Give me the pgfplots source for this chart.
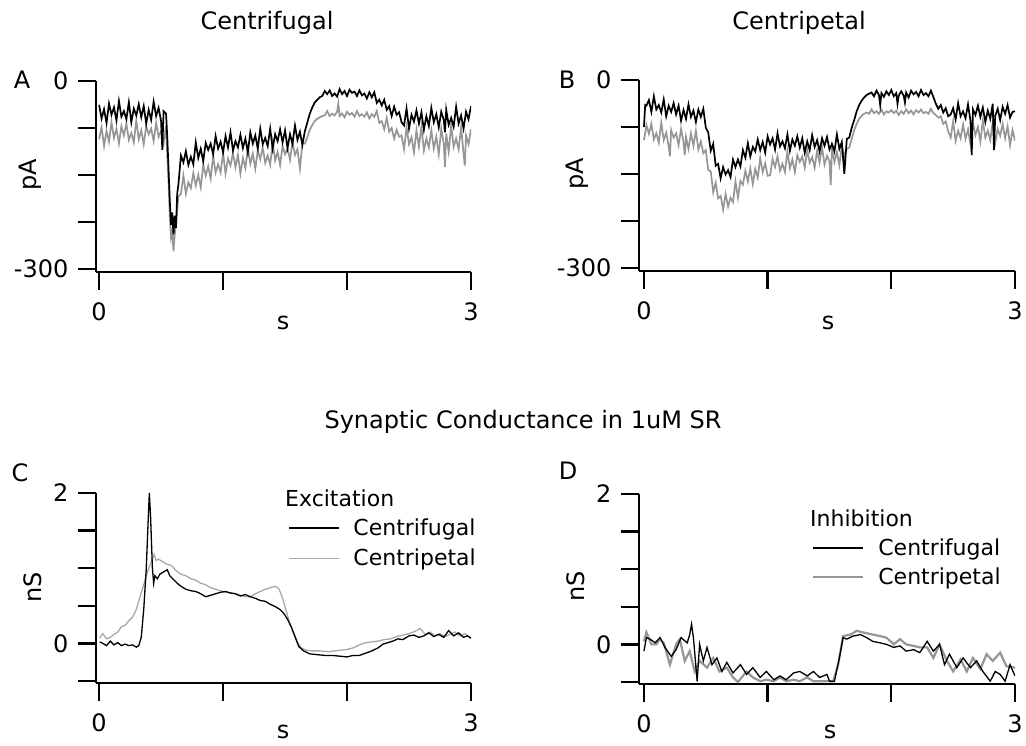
\documentclass[border=0pt]{standalone}
\usepackage{fontspec}
\setmainfont{DejaVu Sans}
\usepackage{pgfplots}
\pgfplotsset{compat=1.18}
\definecolor{tgray}{RGB}{150,150,150}
\definecolor{lgray}{RGB}{168,168,168}
\newcommand{\bigf}{\fontsize{24}{24}\selectfont}
\newcommand{\legf}{\fontsize{22}{22}\selectfont}
\pgfplotsset{
  igor/.style={
    scale only axis,
    axis x line=bottom, axis y line=left,
    axis line style={-, line width=2.3pt, black},
    tick align=outside, major tick length=18pt,
    every tick/.style={black, line width=2.3pt},
    major tick style={black, line width=2.3pt},
    minor tick num=0,
    xmax=3, xtick={0,1,2,3}, xticklabels={0,,,3},
    tick label style={font=\bigf},
    xticklabel style={anchor=north, yshift=-9pt},
    yticklabel style={anchor=east, xshift=-6pt},
  },
  igorA/.style={igor, width=375pt, height=191pt, xmin=-0.025, ymin=-305, ymax=0,
    ytick={-300,-225,-150,-75,0}, yticklabels={-300,,,,0}},
  igorC/.style={igor, width=376pt, height=190pt, ymin=-0.527, ymax=2,
    ytick={-0.5,0,0.5,1,1.5,2}, yticklabels={,0,,,,2}},
  leg/.style={draw=none, fill=none, inner sep=0pt, font=\legf, cells={anchor=west},
    nodes={inner sep=0pt}, /tikz/every odd column/.append style={column sep=14pt}},
}
\begin{document}
\begin{tikzpicture}
\useasboundingbox (0,0) rectangle (1026pt,745pt);
% ---------------- Panel A ----------------
\begin{axis}[igorA, at={(96pt,473pt)}, anchor=south west]
\addplot[tgray, line width=1.7pt] coordinates {
(0.00,-93)(0.02,-74)(0.04,-104)(0.06,-80)(0.08,-97)(0.10,-66)(0.12,-91)(0.14,-76)(0.16,-100)(0.18,-72)
(0.20,-87)(0.22,-68)(0.24,-94)(0.26,-83)(0.28,-98)(0.30,-63)(0.32,-93)(0.34,-79)(0.36,-101)(0.38,-72)
(0.40,-85)(0.42,-76)(0.44,-96)(0.46,-67)(0.48,-89)(0.50,-80)(0.52,-100)(0.54,-71)
(0.55,-120)(0.56,-160)(0.57,-215)(0.58,-250)(0.59,-240)(0.60,-272)(0.61,-245)(0.62,-230)(0.63,-205)(0.64,-185)
(0.66,-180)(0.68,-151)(0.70,-180)(0.72,-162)(0.74,-171)(0.76,-147)(0.78,-167)(0.80,-150)(0.82,-170)(0.84,-134)
(0.86,-151)(0.88,-136)(0.90,-156)(0.92,-120)(0.94,-146)(0.96,-133)(0.98,-146)(1.00,-115)(1.02,-148)(1.04,-124)
(1.06,-135)(1.08,-115)(1.10,-138)(1.12,-118)(1.14,-148)(1.16,-123)(1.18,-139)(1.20,-108)(1.22,-132)(1.24,-116)
(1.26,-140)(1.28,-111)(1.30,-125)(1.32,-106)(1.34,-131)(1.36,-119)(1.38,-134)(1.40,-98)(1.42,-127)(1.44,-113)
(1.46,-134)(1.48,-104)(1.50,-117)(1.52,-107)(1.54,-126)(1.56,-97)(1.58,-118)(1.60,-109)(1.62,-140)(1.64,-99)
(1.66,-100)(1.68,-90)(1.70,-78)(1.72,-70)(1.74,-64)(1.76,-60)(1.78,-58)(1.80,-56)
(1.82,-55)(1.84,-48)(1.86,-56)(1.88,-52)(1.90,-55)(1.92,-49)(1.93,-36)(1.94,-56)(1.96,-52)(1.98,-58)(2.00,-49)
(2.02,-54)(2.04,-51)(2.06,-57)(2.08,-48)(2.10,-56)(2.12,-53)(2.14,-57)(2.16,-50)(2.18,-60)(2.20,-53)(2.22,-57)
(2.24,-48)(2.26,-67)(2.28,-64)(2.30,-77)(2.32,-59)(2.34,-81)(2.36,-75)(2.38,-92)(2.40,-78)(2.42,-89)(2.44,-87)
(2.46,-109)(2.48,-74)(2.50,-101)(2.52,-90)(2.54,-114)(2.56,-79)(2.58,-105)(2.60,-73)(2.62,-111)(2.64,-92)
(2.66,-106)(2.68,-79)(2.70,-108)(2.72,-89)(2.74,-117)(2.76,-76)(2.78,-100)(2.79,-137)(2.80,-84)(2.82,-113)
(2.84,-71)(2.86,-105)(2.88,-92)(2.90,-109)(2.92,-74)(2.94,-116)(2.95,-135)(2.96,-87)(2.98,-101)(3.00,-77)};
\addplot[black, line width=1.7pt] coordinates {
(0.00,-38)(0.02,-60)(0.04,-45)(0.06,-67)(0.08,-36)(0.10,-54)(0.12,-42)(0.14,-63)(0.16,-32)(0.18,-57)
(0.20,-48)(0.22,-61)(0.24,-34)(0.26,-66)(0.28,-44)(0.30,-55)(0.32,-37)(0.34,-58)(0.36,-40)(0.38,-68)
(0.40,-46)(0.42,-62)(0.44,-33)(0.46,-56)(0.48,-43)(0.50,-64)(0.51,-110)(0.52,-48)(0.54,-52)
(0.55,-90)(0.56,-140)(0.57,-190)(0.58,-230)(0.59,-210)(0.60,-245)(0.61,-215)(0.62,-235)(0.63,-180)(0.64,-165)
(0.66,-119)(0.68,-130)(0.70,-112)(0.72,-134)(0.74,-121)(0.76,-133)(0.78,-98)(0.80,-123)(0.82,-108)(0.84,-128)
(0.86,-99)(0.88,-110)(0.90,-100)(0.92,-117)(0.94,-88)(0.96,-108)(0.98,-97)(1.00,-114)(1.02,-88)(1.04,-106)
(1.06,-82)(1.08,-111)(1.10,-96)(1.12,-106)(1.14,-86)(1.16,-107)(1.18,-92)(1.20,-114)(1.22,-82)(1.24,-100)
(1.26,-87)(1.28,-108)(1.30,-76)(1.32,-101)(1.34,-91)(1.36,-104)(1.38,-76)(1.40,-108)(1.42,-85)(1.44,-96)
(1.46,-77)(1.48,-98)(1.50,-79)(1.52,-107)(1.54,-85)(1.56,-100)(1.58,-71)(1.60,-94)(1.62,-81)(1.64,-102)
(1.66,-80)(1.68,-66)(1.70,-52)(1.72,-42)(1.74,-34)(1.76,-30)(1.78,-26)(1.80,-24)
(1.82,-16)(1.84,-21)(1.86,-15)(1.88,-24)(1.90,-20)(1.92,-25)(1.94,-13)(1.96,-21)(1.98,-16)(2.00,-24)
(2.02,-14)(2.04,-19)(2.06,-17)(2.08,-24)(2.10,-15)(2.12,-23)(2.14,-20)(2.16,-28)(2.18,-18)(2.20,-26)(2.22,-18)
(2.24,-35)(2.26,-30)(2.28,-39)(2.30,-30)(2.32,-46)(2.34,-40)(2.36,-56)(2.38,-41)(2.40,-54)(2.42,-50)(2.44,-66)
(2.46,-71)(2.48,-44)(2.50,-76)(2.52,-54)(2.54,-65)(2.56,-47)(2.58,-68)(2.60,-50)(2.62,-78)(2.64,-56)
(2.66,-72)(2.68,-43)(2.70,-66)(2.72,-53)(2.74,-74)(2.76,-49)(2.78,-62)(2.79,-82)(2.80,-46)(2.82,-70)
(2.84,-59)(2.86,-73)(2.88,-41)(2.90,-68)(2.92,-55)(2.94,-76)(2.96,-49)(2.98,-61)(3.00,-40)};
\end{axis}
% ---------------- Panel B ----------------
\begin{axis}[igorA, width=376pt, xmin=-0.04, at={(639pt,474pt)}, anchor=south west]
\addplot[tgray, line width=1.7pt] coordinates {
(0.00,-96)(0.02,-72)(0.04,-86)(0.06,-70)(0.08,-95)(0.10,-85)(0.12,-100)(0.14,-68)(0.16,-96)(0.18,-84)
(0.20,-106)(0.21,-122)(0.22,-80)(0.24,-92)(0.26,-85)(0.28,-104)(0.30,-78)(0.32,-99)(0.33,-120)(0.34,-91)
(0.36,-110)(0.38,-85)(0.40,-105)(0.42,-81)(0.44,-111)(0.46,-98)
(0.48,-117)(0.50,-112)(0.52,-144)(0.54,-146)(0.56,-179)(0.58,-164)(0.60,-189)(0.62,-185)(0.64,-207)(0.66,-182)(0.68,-202)
(0.70,-188)(0.72,-195)(0.74,-162)(0.76,-188)(0.78,-161)(0.80,-167)(0.82,-145)(0.84,-162)(0.86,-141)(0.88,-166)
(0.90,-142)(0.92,-156)(0.94,-125)(0.96,-147)(0.98,-133)(1.00,-153)
(1.02,-152)(1.04,-126)(1.06,-139)(1.08,-122)(1.10,-145)(1.12,-134)(1.14,-147)(1.16,-114)(1.18,-141)(1.20,-127)
(1.22,-147)(1.24,-120)(1.26,-131)(1.28,-122)(1.30,-140)(1.32,-112)(1.34,-132)(1.36,-123)(1.38,-140)(1.40,-113)
(1.42,-132)(1.44,-107)(1.46,-135)(1.48,-121)(1.50,-130)(1.51,-168)(1.52,-109)(1.54,-131)(1.56,-115)(1.58,-136)
(1.60,-105)(1.62,-122)(1.64,-110)
(1.66,-108)(1.68,-94)(1.70,-80)(1.72,-70)(1.74,-62)(1.76,-57)(1.78,-54)(1.80,-52)
(1.82,-54)(1.84,-47)(1.86,-53)(1.88,-50)(1.90,-54)(1.92,-47)(1.94,-55)(1.96,-50)(1.98,-52)(2.00,-48)
(2.02,-53)(2.04,-49)(2.06,-56)(2.08,-50)(2.10,-54)(2.12,-47)(2.14,-53)(2.16,-49)(2.18,-55)(2.20,-48)
(2.22,-52)(2.24,-47)(2.26,-53)(2.28,-51)(2.30,-54)(2.32,-46)(2.34,-53)
(2.36,-56)(2.38,-60)(2.40,-58)(2.42,-70)(2.44,-66)(2.46,-82)
(2.48,-92)(2.50,-66)(2.52,-97)(2.54,-81)(2.56,-93)(2.58,-71)(2.60,-94)(2.62,-79)(2.64,-102)(2.66,-68)
(2.68,-88)(2.70,-75)(2.72,-98)(2.74,-65)(2.76,-92)(2.78,-81)(2.80,-96)(2.82,-67)(2.84,-101)(2.86,-78)
(2.88,-89)(2.90,-70)(2.92,-93)(2.94,-74)(2.96,-104)(2.98,-80)(3.00,-97)};
\addplot[black, line width=1.7pt] coordinates {
(0.00,-75)(0.01,-40)(0.02,-41)(0.04,-32)(0.06,-51)(0.08,-26)(0.10,-47)(0.12,-40)(0.14,-52)(0.16,-31)
(0.18,-58)(0.20,-41)(0.22,-51)(0.24,-37)(0.26,-55)(0.28,-41)(0.30,-65)(0.32,-48)(0.34,-62)(0.36,-39)
(0.38,-59)(0.40,-49)(0.42,-67)(0.44,-47)(0.46,-59)(0.48,-46)
(0.50,-76)(0.52,-84)(0.54,-113)(0.56,-102)(0.58,-137)(0.60,-134)(0.62,-157)(0.64,-139)(0.66,-151)(0.68,-144)
(0.70,-155)(0.72,-127)(0.74,-139)(0.76,-127)(0.78,-138)(0.80,-112)(0.82,-124)(0.84,-101)(0.86,-122)(0.88,-107)
(0.90,-114)(0.92,-95)(0.94,-112)(0.96,-99)(0.98,-116)(1.00,-90)
(1.02,-103)(1.04,-93)(1.06,-111)(1.08,-85)(1.10,-106)(1.12,-98)(1.14,-109)(1.16,-87)(1.18,-113)(1.20,-95)
(1.22,-105)(1.24,-90)(1.26,-108)(1.28,-93)(1.30,-116)(1.32,-98)(1.34,-112)(1.36,-88)(1.38,-107)(1.40,-96)
(1.42,-114)(1.44,-93)(1.46,-105)(1.48,-91)(1.50,-111)(1.52,-102)(1.54,-114)(1.56,-87)(1.58,-110)(1.60,-99)
(1.62,-150)(1.64,-94)
(1.66,-92)(1.68,-76)(1.70,-64)(1.72,-50)(1.74,-40)(1.76,-33)(1.78,-28)(1.80,-24)
(1.82,-22)(1.84,-20)(1.86,-26)(1.88,-17)(1.90,-24)(1.91,-40)(1.92,-21)(1.94,-27)(1.96,-18)(1.98,-24)
(2.00,-16)(2.02,-26)(2.04,-21)(2.05,-38)(2.06,-25)(2.08,-18)(2.10,-25)(2.11,-36)(2.12,-20)(2.14,-28)
(2.16,-17)(2.18,-23)(2.20,-19)(2.22,-26)(2.24,-16)(2.26,-24)(2.28,-21)(2.30,-26)(2.32,-17)(2.34,-27)
(2.36,-38)(2.38,-46)(2.40,-40)(2.42,-52)(2.44,-45)(2.46,-58)
(2.48,-55)(2.50,-45)(2.52,-63)(2.54,-37)(2.56,-58)(2.58,-50)(2.60,-61)(2.62,-39)(2.64,-65)(2.65,-120)
(2.66,-47)(2.68,-56)(2.70,-41)(2.72,-59)(2.74,-44)(2.76,-67)(2.78,-49)(2.80,-62)(2.82,-38)(2.83,-112)
(2.84,-57)(2.86,-46)(2.88,-64)(2.90,-43)(2.92,-54)(2.94,-40)(2.96,-60)(2.98,-51)(3.00,-50)};
\end{axis}
% ---------------- Panel C ----------------
\begin{axis}[igorC, width=375pt, xmin=-0.025, at={(96pt,62pt)}, anchor=south west,
  legend style={leg, at={(axis description cs:0.512,0.865)}, anchor=north west, row sep=12pt},
  legend image code/.code={\draw[#1] (0pt,0pt) -- (50pt,0pt);}]
\addplot[lgray, line width=1.3pt, forget plot] coordinates {
(0.005,0.07)(0.03,0.13)(0.06,0.06)(0.09,0.08)(0.12,0.12)(0.15,0.15)(0.18,0.22)(0.21,0.24)(0.24,0.30)(0.27,0.35)
(0.30,0.45)(0.33,0.62)(0.36,0.78)(0.39,0.95)(0.41,1.04)(0.43,1.12)(0.445,1.18)(0.46,1.10)(0.48,1.12)(0.51,1.09)
(0.55,1.05)(0.58,1.04)(0.62,0.97)(0.66,0.92)(0.70,0.90)(0.74,0.86)(0.78,0.84)(0.82,0.80)(0.86,0.78)(0.90,0.74)
(0.94,0.72)(0.98,0.70)(1.02,0.68)(1.06,0.67)(1.10,0.66)(1.14,0.64)(1.18,0.62)(1.22,0.62)(1.26,0.66)(1.30,0.69)
(1.34,0.72)(1.38,0.74)(1.42,0.76)(1.45,0.73)(1.48,0.60)(1.51,0.43)(1.54,0.26)(1.57,0.14)(1.60,0.02)(1.63,-0.06)
(1.67,-0.09)(1.72,-0.10)(1.78,-0.10)(1.85,-0.11)(1.90,-0.10)(1.95,-0.09)(2.00,-0.08)(2.05,-0.06)(2.10,-0.02)(2.15,0.01)
(2.20,0.02)(2.25,0.03)(2.30,0.05)(2.35,0.06)(2.40,0.09)(2.45,0.11)(2.50,0.13)(2.55,0.16)(2.59,0.20)(2.63,0.12)
(2.67,0.15)(2.71,0.10)(2.75,0.13)(2.79,0.09)(2.83,0.12)(2.87,0.15)(2.91,0.10)(2.95,0.13)(3.00,0.07)};
\addplot[black, line width=1.3pt] coordinates {
(0.005,0.02)(0.03,0.0)(0.06,-0.03)(0.09,0.03)(0.12,-0.02)(0.15,0.01)(0.18,-0.03)(0.21,-0.01)(0.24,-0.03)(0.27,-0.02)
(0.30,-0.05)(0.32,-0.03)(0.34,0.08)(0.36,0.45)(0.38,0.98)(0.395,1.6)(0.405,2.0)(0.415,1.7)(0.43,1.0)(0.44,0.8)
(0.45,0.9)(0.47,0.86)(0.49,0.92)(0.52,0.95)(0.55,0.98)(0.57,0.9)(0.60,0.85)(0.63,0.8)(0.66,0.76)(0.70,0.72)
(0.74,0.70)(0.78,0.69)(0.82,0.66)(0.86,0.62)(0.90,0.64)(0.94,0.66)(0.98,0.68)(1.02,0.69)(1.06,0.67)(1.10,0.66)
(1.14,0.63)(1.18,0.65)(1.22,0.62)(1.26,0.60)(1.30,0.57)(1.34,0.56)(1.38,0.52)(1.42,0.49)(1.46,0.45)(1.49,0.40)
(1.52,0.32)(1.55,0.22)(1.58,0.09)(1.61,-0.04)(1.65,-0.10)(1.70,-0.14)(1.76,-0.15)(1.82,-0.16)(1.88,-0.16)(1.94,-0.17)
(2.00,-0.18)(2.05,-0.16)(2.10,-0.16)(2.15,-0.13)(2.20,-0.10)(2.25,-0.06)(2.29,-0.01)(2.33,0.01)(2.37,0.03)(2.41,0.06)
(2.45,0.05)(2.50,0.10)(2.54,0.11)(2.58,0.08)(2.62,0.10)(2.66,0.14)(2.70,0.09)(2.74,0.12)(2.78,0.08)(2.82,0.17)
(2.86,0.10)(2.90,0.14)(2.94,0.08)(2.97,0.10)(3.00,0.07)};
\addlegendentry{Centrifugal}
\addlegendimage{lgray, line width=1.3pt}
\addlegendentry{Centripetal}
\end{axis}
% ---------------- Panel D ----------------
\begin{axis}[igorC, width=376pt, xmin=-0.04, at={(639pt,61pt)}, anchor=south west,
  legend style={leg, at={(axis description cs:0.46,0.765)}, anchor=north west, row sep=11pt},
  legend image code/.code={\draw[#1] (0pt,0pt) -- (50pt,0pt);}]
\addplot[tgray, line width=2.2pt, forget plot] coordinates {
(0.0,0.04)(0.02,0.16)(0.06,0.0)(0.10,0.0)(0.13,0.07)(0.16,0.02)(0.21,-0.27)(0.26,0.0)(0.29,0.07)(0.33,-0.22)
(0.37,-0.09)(0.41,-0.36)(0.45,-0.22)(0.51,-0.31)(0.56,-0.18)(0.61,-0.36)(0.67,-0.31)(0.72,-0.44)(0.76,-0.5)(0.83,-0.36)
(0.88,-0.44)(0.94,-0.49)(0.99,-0.47)(1.05,-0.49)(1.10,-0.44)(1.15,-0.49)(1.21,-0.47)(1.26,-0.49)(1.32,-0.44)(1.37,-0.49)
(1.45,-0.49)(1.53,-0.49)(1.57,-0.27)(1.61,0.11)(1.67,0.13)(1.72,0.18)(1.77,0.16)(1.85,0.13)(1.91,0.11)(1.96,0.09)
(2.02,0.0)(2.07,0.07)(2.12,0.0)(2.18,-0.02)(2.23,-0.04)(2.29,-0.04)(2.34,-0.18)(2.39,0.0)(2.45,-0.22)(2.50,-0.36)
(2.56,-0.2)(2.61,-0.36)(2.66,-0.18)(2.72,-0.33)(2.77,-0.13)(2.82,-0.22)(2.88,-0.11)(2.93,-0.29)(3.00,-0.31)};
\addplot[black, line width=1.3pt] coordinates {
(0.0,-0.09)(0.02,0.09)(0.05,0.07)(0.09,0.02)(0.13,0.09)(0.17,-0.04)(0.22,-0.16)(0.26,-0.07)(0.30,0.09)(0.35,0.02)
(0.37,0.13)(0.385,0.27)(0.40,0.09)(0.43,-0.49)(0.45,0.0)(0.48,-0.22)(0.51,-0.04)(0.55,-0.27)(0.59,-0.18)(0.63,-0.36)
(0.67,-0.24)(0.72,-0.38)(0.78,-0.27)(0.83,-0.40)(0.88,-0.31)(0.94,-0.44)(0.99,-0.36)(1.05,-0.47)(1.10,-0.42)(1.15,-0.47)
(1.21,-0.38)(1.26,-0.36)(1.32,-0.42)(1.37,-0.36)(1.42,-0.44)(1.48,-0.40)(1.50,-0.49)(1.54,-0.49)(1.58,-0.18)(1.61,0.09)
(1.64,0.07)(1.69,0.11)(1.75,0.13)(1.80,0.09)(1.85,0.04)(1.91,0.02)(1.96,0.0)(2.02,-0.04)(2.07,-0.02)(2.12,-0.09)
(2.18,-0.07)(2.23,-0.11)(2.29,0.04)(2.34,-0.09)(2.39,0.0)(2.43,-0.27)(2.47,-0.13)(2.53,-0.31)(2.58,-0.18)(2.64,-0.31)
(2.69,-0.22)(2.74,-0.36)(2.80,-0.49)(2.84,-0.36)(2.88,-0.40)(2.92,-0.49)(2.96,-0.27)(3.00,-0.42)};
\addlegendentry{Centrifugal}
\addlegendimage{tgray, line width=2.2pt}
\addlegendentry{Centripetal}
\end{axis}
% ---------------- Text ----------------
\node[font=\bigf] at (267pt,722pt) {Centrifugal};
\node[font=\bigf] at (799pt,722pt) {Centripetal};
\node[font=\bigf] at (523pt,323pt) {Synaptic Conductance in 1uM SR};
\node[font=\bigf] at (22pt,665pt) {A};
\node[font=\bigf] at (567pt,665pt) {B};
\node[font=\bigf] at (20pt,272pt) {C};
\node[font=\bigf] at (568pt,274pt) {D};
\node[font=\bigf, rotate=90] at (30pt,570pt) {pA};
\node[font=\bigf, rotate=90] at (577pt,571pt) {pA};
\node[font=\bigf, rotate=90] at (33pt,158pt) {nS};
\node[font=\bigf, rotate=90] at (576pt,159pt) {nS};
\node[font=\bigf] at (283pt,422pt) {s};
\node[font=\bigf] at (828pt,422pt) {s};
\node[font=\bigf] at (283pt,13pt) {s};
\node[font=\bigf] at (830pt,13pt) {s};
\node[font=\legf, anchor=west, inner sep=0pt] at (285pt,247pt) {Excitation};
\node[font=\legf, anchor=west, inner sep=0pt] at (810pt,227pt) {Inhibition};
\end{tikzpicture}
\end{document}
